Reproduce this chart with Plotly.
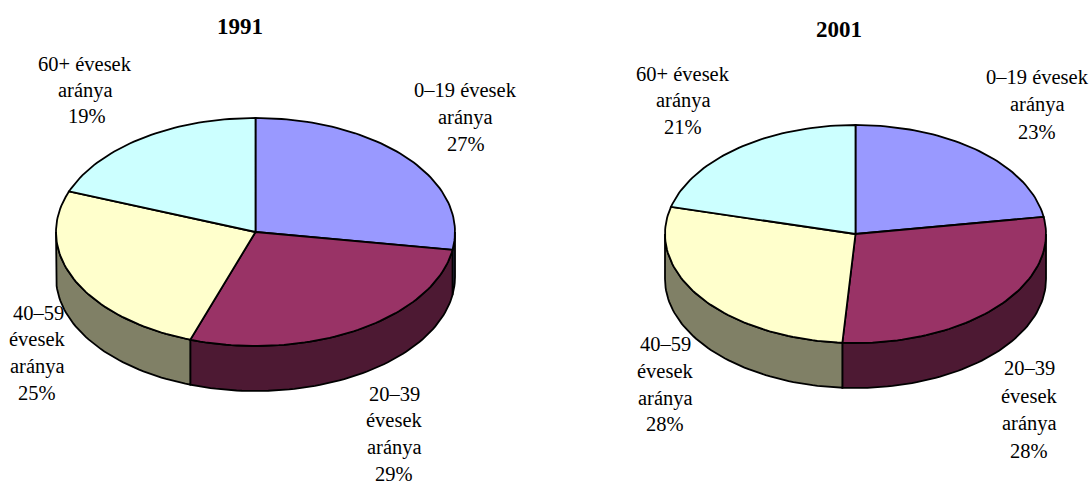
import math
import plotly.graph_objects as go

SLICE_NAMES = ["0–19 évesek", "20–39 évesek", "40–59 évesek", "60+ évesek"]
VALUES_1991 = [27.5, 27.8, 25.5, 19.2]
VALUES_2001 = [22.5, 28.6, 27.9, 21.0]
TOP_COLORS = ["#9999FF", "#993366", "#FFFFCC", "#CCFFFF"]
WALL_COLORS = ["#4D4D80", "#4D1933", "#808066", "#668080"]

GEOM = {
    "1991": dict(cx=255.5, cy=232, rx=199.5, ry=114, depth=45),
    "2001": dict(cx=855.5, cy=234, rx=190.5, ry=109, depth=45),
}

LABEL_SIZE = 20.5
TITLE_SIZE = 23
LABELS = [
    ("60+ évesek", 85, 64), ("aránya", 85, 90), ("19%", 87, 116),
    ("0–19 évesek", 465, 90), ("aránya", 465, 117), ("27%", 466, 144),
    ("40–59", 38, 313), ("évesek", 37, 339), ("aránya", 37, 366), ("25%", 37, 393),
    ("20–39", 394, 394), ("évesek", 394, 420), ("aránya", 394, 447), ("29%", 394, 474),
    ("60+ évesek", 683, 74), ("aránya", 683, 100), ("21%", 683, 127),
    ("0–19 évesek", 1037, 77), ("aránya", 1037, 104), ("23%", 1037, 132),
    ("40–59", 665, 344), ("évesek", 665, 371), ("aránya", 665, 398), ("28%", 665, 424),
    ("20–39", 1029, 368), ("évesek", 1029, 396), ("aránya", 1029, 423), ("28%", 1029, 451),
]
TITLES = [("1991", 240, 26), ("2001", 839, 29)]


def rim(g, a0, a1, dz=0.0):
    n = max(2, int(abs(a1 - a0) / 1.5))
    pts = [a0 + (a1 - a0) * i / n for i in range(n + 1)]
    xs = [g["cx"] + g["rx"] * math.sin(math.radians(a)) for a in pts]
    ys = [g["cy"] - g["ry"] * math.cos(math.radians(a)) + dz for a in pts]
    return xs, ys


def add_poly(fig, xs, ys, color, name):
    fig.add_trace(go.Scatter(
        x=xs, y=ys, mode="lines", fill="toself", fillcolor=color, name=name,
        line=dict(color="black", width=1.8), hoverinfo="name", showlegend=False,
    ))


def add_pie(fig, values, g):
    total = sum(values)
    edges = [0.0]
    for v in values:
        edges.append(edges[-1] + v / total * 360)
    for i in range(len(values)):
        a0, a1 = max(edges[i], 90), min(edges[i + 1], 270)
        if a1 > a0:
            tx, ty = rim(g, a0, a1)
            bx, by = rim(g, a1, a0, g["depth"])
            add_poly(fig, tx + bx + tx[:1], ty + by + ty[:1], WALL_COLORS[i], SLICE_NAMES[i])
    for i in range(len(values)):
        tx, ty = rim(g, edges[i], edges[i + 1])
        add_poly(fig, [g["cx"]] + tx + [g["cx"]], [g["cy"]] + ty + [g["cy"]], TOP_COLORS[i], SLICE_NAMES[i])


fig = go.Figure()
add_pie(fig, VALUES_1991, GEOM["1991"])
add_pie(fig, VALUES_2001, GEOM["2001"])

for text, x, y in LABELS:
    fig.add_annotation(
        x=x, y=y, text=text, showarrow=False, xanchor="center", yanchor="middle",
        font=dict(family="Liberation Serif", size=LABEL_SIZE, color="black"),
    )
for text, x, y in TITLES:
    fig.add_annotation(
        x=x, y=y, text=f"<b>{text}</b>", showarrow=False, xanchor="center", yanchor="middle",
        font=dict(family="Liberation Serif", size=TITLE_SIZE, color="black"),
    )

fig.update_xaxes(range=[0, 1091], visible=False, fixedrange=True)
fig.update_yaxes(range=[484, 0], visible=False, fixedrange=True)
fig.update_layout(
    width=1091, height=484, margin=dict(l=0, r=0, t=0, b=0),
    paper_bgcolor="white", plot_bgcolor="white", showlegend=False,
)
fig.write_html(
    "out.html",
    config={"displayModeBar": False},
    post_script="document.body.style.margin='0';document.body.style.overflow='hidden';",
)
